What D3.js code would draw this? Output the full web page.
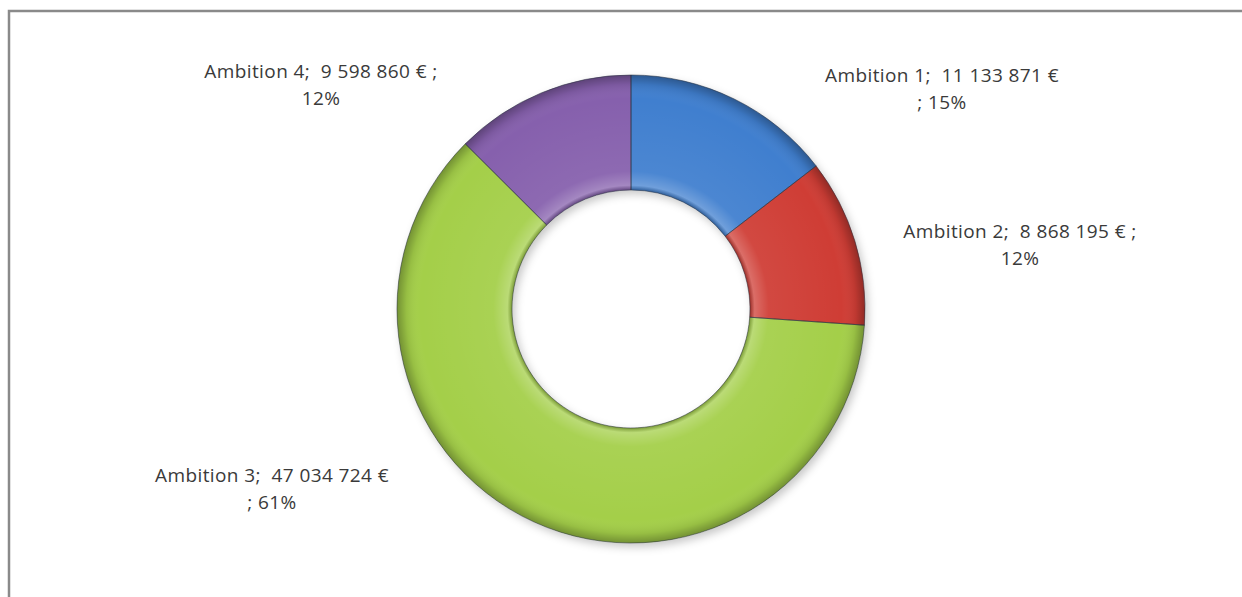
<!DOCTYPE html>
<html>
<head>
<meta charset="utf-8">
<script src="https://cdn.jsdelivr.net/npm/d3@7"></script>
<style>
  body { margin: 0; background: #fff; }
  svg { display: block; }
</style>
</head>
<body>
<div id="donut_chart"></div>
<script>
// --------------------------------------
//  Data
// --------------------------------------

const categories = ["Ambition 1", "Ambition 2", "Ambition 3", "Ambition 4"];
const amounts = [11133871, 8868195, 47034724, 9598860];
const percents = [15, 12, 61, 12];   // as printed on the chart
// where Excel wrapped each label: before the "; xx%" or after the "€ ;"
const wraps = ["before", "after", "before", "after"];

// --------------------------------------
//  Layout
// --------------------------------------

const width = 1242, height = 597;
const cx = 631, cy = 309;
const outerR = 234, innerR = 119;
const colors = ["#3f7fcf", "#cf3d36", "#a4cf4a", "#8660ad"];
const labelOffset = [[311, -227], [389, -71], [-359, 173], [-310, -231]];

const svg = d3.select("#donut_chart")
  .append("svg")
  .attr("width", width)
  .attr("height", height)
  .attr("viewBox", [0, 0, width, height]);

const defs = svg.append("defs");

defs.append("filter")
  .attr("id", "shadow")
  .attr("x", "-10%").attr("y", "-10%")
  .attr("width", "130%").attr("height", "130%")
  .append("feDropShadow")
    .attr("dx", 3).attr("dy", 4)
    .attr("stdDeviation", 4)
    .attr("flood-color", "#000")
    .attr("flood-opacity", 0.22);

// bevel look, centred on the group origin
const bevel = defs.append("radialGradient")
  .attr("id", "bevel")
  .attr("gradientUnits", "userSpaceOnUse")
  .attr("cx", 0).attr("cy", 0).attr("r", outerR);

const k = innerR / outerR;
[
  [k, "#000", 0.25],
  [k + 0.02, "#fff", 0.25],
  [k + 0.08, "#fff", 0.06],
  [0.9, "#fff", 0],
  [0.96, "#000", 0.08],
  [1, "#000", 0.3]
].forEach(([o, c, a]) => bevel.append("stop")
  .attr("offset", o).attr("stop-color", c).attr("stop-opacity", a));

// frame
svg.append("rect")
  .attr("x", 9).attr("y", 11)
  .attr("width", width + 20).attr("height", height + 20)
  .attr("fill", "#fff")
  .attr("stroke", "#8a8a8a")
  .attr("stroke-width", 2.5);

const pie = d3.pie().sort(null).value(d => d);
const arcs = pie(amounts);

const arc = d3.arc().innerRadius(innerR).outerRadius(outerR);

const g = svg.append("g")
  .attr("transform", `translate(${cx}, ${cy})`);

g.append("g")
  .attr("filter", "url(#shadow)")
  .selectAll("path")
  .data(arcs)
  .join("path")
    .attr("d", arc)
    .attr("fill", (d, i) => colors[i]);

g.append("g")
  .selectAll("path")
  .data(arcs)
  .join("path")
    .attr("d", arc)
    .attr("fill", "url(#bevel)")
    .attr("stroke", "#2b3340")
    .attr("stroke-opacity", 0.55)
    .attr("stroke-width", 1);

// --------------------------------------
//  Labels
// --------------------------------------

const fr = d3.formatLocale({ decimal: ",", thousands: " ", grouping: [3], currency: ["", " €"] });
const fmtNum = fr.format(",d");

const labels = g.append("g")
  .attr("font-family", "'Open Sans', 'Noto Sans', sans-serif")
  .attr("font-size", 19)
  .attr("letter-spacing", 0.4)
  .attr("fill", "#3a3a3a")
  .attr("text-anchor", "middle");

arcs.forEach((d, i) => {
  const pct = percents[i] + "%";
  const head = `${categories[i]};  ${fmtNum(amounts[i])} €`;
  const lines = wraps[i] === "before" ? [head, "; " + pct] : [head + " ;", pct];
  const t = labels.append("text")
    .attr("x", labelOffset[i][0])
    .attr("y", labelOffset[i][1]);
  lines.forEach((s, j) => t.append("tspan")
    .attr("x", labelOffset[i][0])
    .attr("dy", j ? 27 : 0)
    .attr("xml:space", "preserve")
    .text(s));
});
</script>
</body>
</html>
